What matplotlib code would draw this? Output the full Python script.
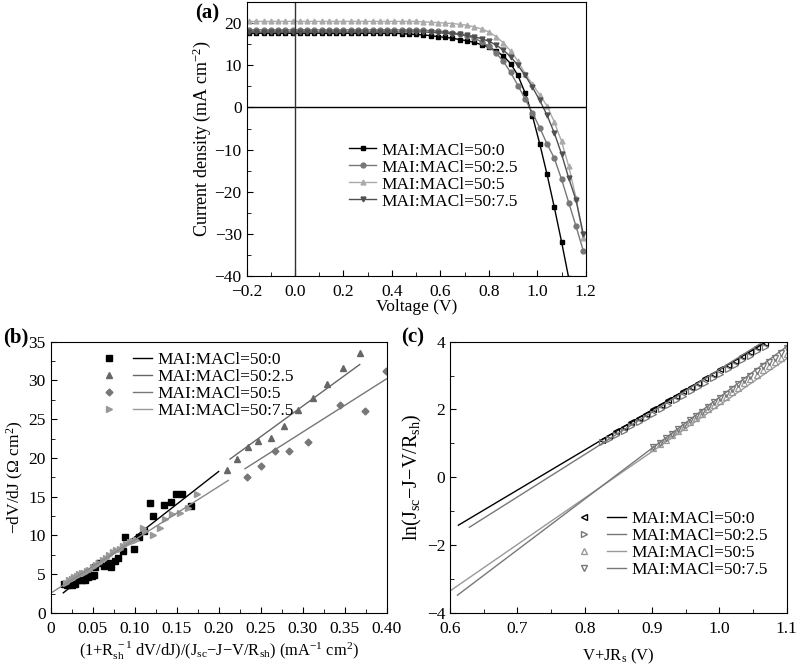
import numpy as np
import matplotlib
matplotlib.use("Agg")
import matplotlib.pyplot as plt
from matplotlib.lines import Line2D
from matplotlib.legend_handler import HandlerTuple
from matplotlib.ticker import MultipleLocator

plt.rcParams['font.family'] = ['Liberation Serif', 'DejaVu Serif']
plt.rcParams['mathtext.fontset'] = 'custom'
plt.rcParams['mathtext.rm'] = 'Liberation Serif'
plt.rcParams['mathtext.it'] = 'Liberation Serif:italic'
plt.rcParams['font.size'] = 12

labels = ['MAI:MACl=50:0', 'MAI:MACl=50:2.5', 'MAI:MACl=50:5', 'MAI:MACl=50:7.5']

# (a) J-V curves
voltage = [-0.19, -0.16, -0.13, -0.10, -0.07, -0.04, -0.01, 0.02, 0.05, 0.08,
           0.11, 0.14, 0.17, 0.20, 0.23, 0.26, 0.29, 0.32, 0.35, 0.38,
           0.41, 0.44, 0.47, 0.50, 0.53, 0.56, 0.59, 0.62, 0.65, 0.68,
           0.71, 0.74, 0.77, 0.80, 0.83, 0.86, 0.89, 0.92, 0.95, 0.98,
           1.01, 1.04, 1.07, 1.10, 1.13, 1.16, 1.19]
j_0 = [17.6, 17.6, 17.6, 17.6, 17.6, 17.6, 17.6, 17.6, 17.6, 17.6,
       17.6, 17.6, 17.6, 17.6, 17.6, 17.6, 17.6, 17.6, 17.6, 17.6,
       17.6, 17.5, 17.4, 17.3, 17.2, 17.0, 16.8, 16.6, 16.4, 16.1,
       15.8, 15.4, 14.9, 14.3, 13.4, 12.2, 10.4, 7.6, 3.4, -2.0,
       -8.6, -15.8, -23.6, -31.8, -40.5, -49.0, -58.0]
j_25 = [18.4, 18.4, 18.4, 18.4, 18.4, 18.4, 18.4, 18.4, 18.4, 18.4,
        18.4, 18.4, 18.4, 18.4, 18.4, 18.4, 18.4, 18.4, 18.4, 18.4,
        18.4, 18.4, 18.4, 18.4, 18.3, 18.2, 18.1, 17.9, 17.7, 17.4,
        17.0, 16.4, 15.6, 14.5, 12.9, 10.9, 8.3, 5.2, 2.0, -1.3,
        -4.8, -8.6, -12.0, -17.0, -22.6, -28.2, -34.0]
j_5 = [20.4, 20.4, 20.4, 20.4, 20.4, 20.4, 20.4, 20.4, 20.4, 20.4,
       20.4, 20.4, 20.4, 20.4, 20.4, 20.4, 20.4, 20.4, 20.4, 20.4,
       20.4, 20.4, 20.4, 20.4, 20.3, 20.2, 20.1, 20.0, 19.9, 19.7,
       19.5, 19.1, 18.6, 17.9, 16.8, 15.3, 13.4, 11.0, 8.0, 5.5,
       3.0, 0.4, -3.4, -8.0, -14.0, -21.5, -31.0]
j_75 = [17.9, 17.9, 17.9, 17.9, 17.9, 17.9, 17.9, 17.9, 17.9, 17.9,
        17.9, 17.9, 17.9, 17.9, 17.9, 17.9, 17.9, 17.9, 17.9, 17.9,
        17.9, 17.9, 17.9, 17.9, 17.9, 17.8, 17.7, 17.6, 17.5, 17.3,
        17.1, 16.8, 16.3, 15.7, 14.8, 13.6, 12.0, 10.0, 7.6, 4.8,
        1.7, -1.8, -6.0, -11.0, -16.8, -22.0, -30.0]

# (b) -dV/dJ points
bx_0 = [0.016, 0.020, 0.025, 0.029, 0.033, 0.037, 0.041, 0.045, 0.049, 0.052,
        0.053, 0.057, 0.064, 0.068, 0.072, 0.077, 0.080, 0.086, 0.088, 0.0996,
        0.105, 0.111, 0.118, 0.122, 0.135, 0.143, 0.149, 0.156, 0.167]
by_0 = [3.7, 3.6, 3.65, 3.8, 4.25, 4.3, 4.3, 4.7, 4.8, 4.85,
        5.9, 6.5, 6.05, 6.4, 5.9, 6.75, 7.1, 8.0, 9.75, 8.2,
        9.75, 10.6, 14.2, 12.5, 13.9, 14.3, 15.4, 15.3, 13.8]
bx_25 = [0.2095, 0.222, 0.2345, 0.247, 0.262, 0.278, 0.295, 0.312, 0.329, 0.348, 0.368]
by_25 = [18.4, 19.9, 21.4, 22.2, 22.6, 24.1, 26.2, 27.7, 29.5, 31.6, 33.5]
bx_5 = [0.2333, 0.250, 0.267, 0.284, 0.3067, 0.3444, 0.374, 0.399]
by_5 = [17.5, 18.9, 20.9, 20.9, 22.0, 26.8, 26.1, 31.2]
bx_75 = [0.018, 0.022, 0.025, 0.028, 0.031, 0.034, 0.037, 0.040, 0.043, 0.046,
         0.050, 0.054, 0.058, 0.062, 0.066, 0.070, 0.074, 0.078, 0.082, 0.086,
         0.090, 0.094, 0.098, 0.102, 0.1095, 0.112, 0.122, 0.130, 0.136, 0.145,
         0.154, 0.164, 0.174]
by_75 = [3.9, 4.2, 4.4, 4.6, 4.8, 5.0, 5.1, 5.2, 5.4, 5.6,
         5.9, 6.2, 6.5, 6.8, 7.1, 7.5, 7.9, 8.1, 8.3, 8.6,
         8.9, 9.1, 9.3, 9.4, 10.9, 10.6, 10.1, 10.9, 12.1, 12.8,
         12.9, 13.6, 15.4]
# linear fits: slope, intercept, x start, x end
fit_b = [(84.6, 1.33, 0.015, 0.200),
         (79.0, 2.98, 0.2135, 0.368),
         (68.8, 2.69, 0.2313, 0.400),
         (68.8, 2.55, 0.0, 0.2115)]

# (c) ln(Jsc-J-V/Rsh) vs V+JRs
cx_up = [0.825, 0.836, 0.847, 0.858, 0.869, 0.880, 0.891, 0.902, 0.913, 0.924,
         0.935, 0.946, 0.957, 0.968, 0.979, 0.990, 1.001, 1.012, 1.023, 1.034,
         1.045, 1.056, 1.067]
cy_0 = [1.10, 1.23, 1.36, 1.49, 1.62, 1.75, 1.88, 2.01, 2.14, 2.27,
        2.40, 2.53, 2.66, 2.79, 2.92, 3.05, 3.18, 3.31, 3.44, 3.57,
        3.70, 3.83, 3.96]
cy_25 = [1.05, 1.12, 1.24, 1.37, 1.50, 1.62, 1.75, 1.88, 2.01, 2.14,
         2.27, 2.40, 2.53, 2.66, 2.79, 2.92, 3.05, 3.18, 3.32, 3.45,
         3.58, 3.71, 3.85]
cx_low = [0.902, 0.911, 0.920, 0.929, 0.938, 0.947, 0.956, 0.965, 0.974, 0.983,
          0.992, 1.001, 1.010, 1.019, 1.028, 1.037, 1.046, 1.055, 1.064, 1.073,
          1.082, 1.091, 1.100]
cy_5 = [0.86, 0.99, 1.11, 1.24, 1.37, 1.49, 1.62, 1.75, 1.88, 2.00,
        2.13, 2.26, 2.38, 2.51, 2.64, 2.77, 2.89, 3.02, 3.15, 3.27,
        3.40, 3.53, 3.65]
cy_75 = [0.88, 1.01, 1.15, 1.28, 1.41, 1.54, 1.68, 1.81, 1.94, 2.07,
         2.21, 2.34, 2.47, 2.61, 2.74, 2.87, 3.00, 3.14, 3.27, 3.40,
         3.53, 3.67, 3.80]
fit_c = [(11.82, -8.65, 0.6124, 1.070),
         (12.53, -9.35, 0.6287, 1.065),
         (13.70, -11.57, 0.601, 1.100),
         (15.00, -12.64, 0.611, 1.100)]

TICK_FS = 12.5
LAB_FS = 12.5
LEG_FS = 12.5


def style_ax(ax, xmaj, xmin, ymaj, ymin):
    ax.xaxis.set_major_locator(MultipleLocator(xmaj))
    ax.xaxis.set_minor_locator(MultipleLocator(xmin))
    ax.yaxis.set_major_locator(MultipleLocator(ymaj))
    ax.yaxis.set_minor_locator(MultipleLocator(ymin))
    ax.tick_params(which='both', direction='in', top=False, right=False, labelsize=TICK_FS)
    ax.tick_params(which='major', length=4)
    ax.tick_params(which='minor', length=3)
    ax.tick_params(axis='x', which='major', pad=6)


fig = plt.figure(figsize=(7.98, 6.67), dpi=100)

# ---- (a)
ax1 = fig.add_axes([0.309, 0.586, 0.425, 0.411])
cols_a = ['black', '#777777', '#aaaaaa', '#505050']
marks_a = ['s', 'o', '^', 'v']
for jv, c, m, lab in zip([j_0, j_25, j_5, j_75], cols_a, marks_a, labels):
    ax1.plot(voltage, jv, color=c, marker=m, ms=3.5, lw=1, label=lab)
ax1.axhline(0, color='black', lw=1)
ax1.axvline(0, color='#333333', lw=1)
ax1.set_xlim(-0.2, 1.2)
ax1.set_ylim(-40, 25)
style_ax(ax1, 0.2, 0.1, 10, 5)
ax1.set_xlabel('Voltage (V)', fontsize=LAB_FS, labelpad=-1)
ax1.set_ylabel('Current density (mA cm$^{-2}$)', fontsize=13, labelpad=1)
ax1.legend(loc='upper left', bbox_to_anchor=(0.255, 0.545), frameon=False,
           fontsize=LEG_FS, handlelength=1.6, labelspacing=0.05, handletextpad=0.3)
fig.text(0.245, 0.972, '(a)', fontsize=15, fontweight='bold')

# ---- (b)
ax2 = fig.add_axes([0.0635, 0.081, 0.421, 0.4068])
cols_b = ['black', '#666666', '#777777', '#999999']
marks_b = ['s', '^', 'D', '>']
ms_b = [4, 4, 3.5, 4]
handles = []
for (bx, by), c, m, ms, (k, b0, x0, x1) in zip(
        [(bx_0, by_0), (bx_25, by_25), (bx_5, by_5), (bx_75, by_75)],
        cols_b, marks_b, ms_b, fit_b):
    ax2.plot(bx, by, ls='none', marker=m, ms=ms, color=c)
    xx = np.array([x0, x1])
    ax2.plot(xx, k * xx + b0, color=c if c != '#999999' else '#888888', lw=1)
    handles.append((Line2D([], [], ls='none', marker=m, ms=ms, color=c),
                    Line2D([], [], color=c, lw=1)))
ax2.set_xlim(0, 0.40)
ax2.set_ylim(0, 35)
style_ax(ax2, 0.05, 0.025, 5, 2.5)
ax2.xaxis.set_major_formatter(lambda v, p: '0' if abs(v) < 1e-9 else f'{v:.2f}')
ax2.set_xlabel(r'(1+R$_{\rm sh}^{\ -1}$ dV/dJ)/(J$_{\rm sc}$$-$J$-$V/R$_{\rm sh}$) (mA$^{-1}$ cm$^2$)',
               fontsize=11.8, labelpad=2)
ax2.set_ylabel(r'$-$dV/dJ ($\Omega$ cm$^2$)', fontsize=LAB_FS, labelpad=2)
ax2.legend(handles, labels, handler_map={tuple: HandlerTuple(ndivide=None, pad=0.8)},
           loc='upper left', bbox_to_anchor=(0.1, 1.02), frameon=False, fontsize=LEG_FS,
           handlelength=3.0, labelspacing=0.05, handletextpad=0.3)
fig.text(0.004, 0.487, '(b)', fontsize=15, fontweight='bold')

# ---- (c)
ax3 = fig.add_axes([0.564, 0.081, 0.422, 0.4068])
cols_c = ['black', '#777777', '#999999', '#777777']
marks_c = ['<', '>', '^', 'v']
handles = []
for (cx, cy), c, m, (k, b0, x0, x1) in zip(
        [(cx_up, cy_0), (cx_up, cy_25), (cx_low, cy_5), (cx_low, cy_75)],
        cols_c, marks_c, fit_c):
    ax3.plot(cx, cy, ls='none', marker=m, ms=4.5, mfc='none', mec=c, mew=0.9)
    xx = np.array([x0, x1])
    ax3.plot(xx, k * xx + b0, color=c, lw=1)
    handles.append((Line2D([], [], ls='none', marker=m, ms=4.5, mfc='none', mec=c),
                    Line2D([], [], color=c, lw=1)))
ax3.set_xlim(0.6, 1.1)
ax3.set_ylim(-4, 4)
style_ax(ax3, 0.1, 0.05, 2, 1)
ax3.set_xlabel(r'V+JR$_{\rm s}$ (V)', fontsize=12, labelpad=7)
ax3.set_ylabel(r'ln(J$_{\rm sc}$$-$J$-$V/R$_{\rm sh}$)', fontsize=14.5, labelpad=2)
ax3.legend(handles, labels, handler_map={tuple: HandlerTuple(ndivide=None, pad=0.8)},
           loc='lower right', bbox_to_anchor=(0.99, 0.07), frameon=False, fontsize=LEG_FS,
           handlelength=3.0, labelspacing=0.05, handletextpad=0.3)
fig.text(0.503, 0.487, '(c)', fontsize=15, fontweight='bold')

fig.savefig('out.png', dpi=100)
